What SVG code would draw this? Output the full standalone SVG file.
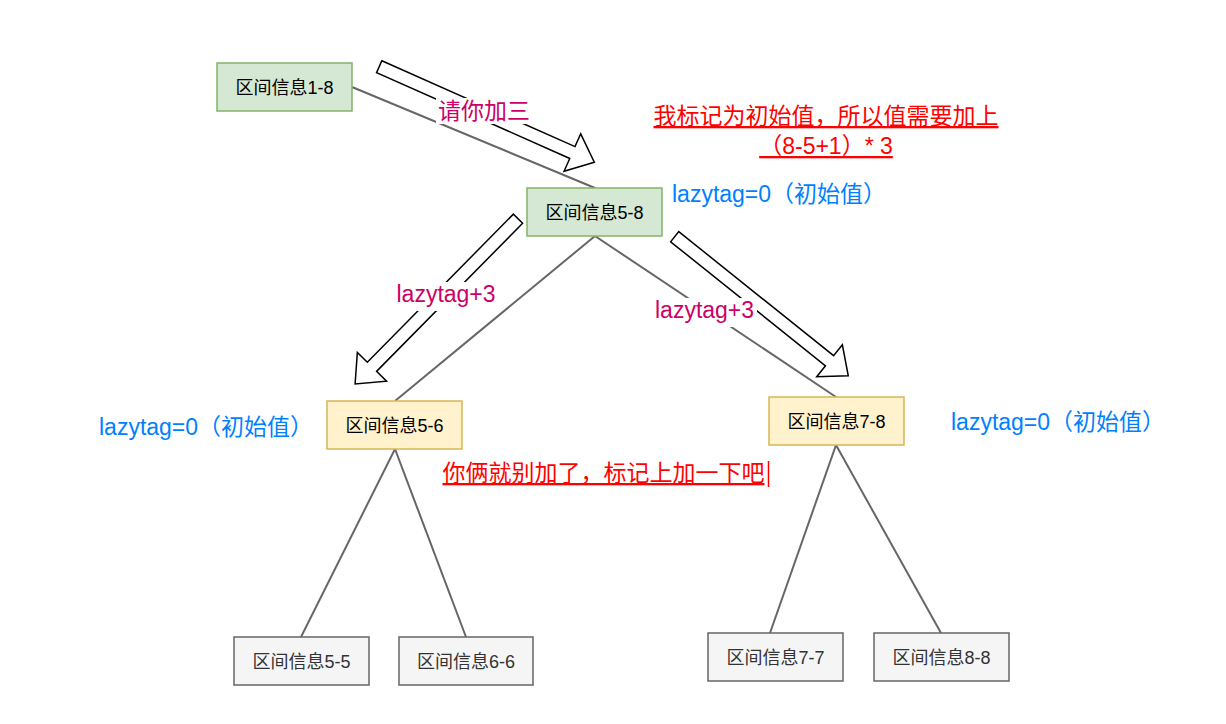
<svg xmlns="http://www.w3.org/2000/svg" width="1226" height="724" viewBox="0 0 1226 724">
<style>
text{font-family:"Liberation Sans","Noto Sans CJK SC",sans-serif}
.n rect{stroke-width:1.5}
.g rect{fill:#d5e8d4;stroke:#82b366}
.y rect{fill:#fff2cc;stroke:#d6b656}
.s rect{fill:#f5f5f5;stroke:#666666}
.n text{font-size:18px;text-anchor:middle;fill:#000}
.s text{fill:#333333}
.e line{stroke:#666666;stroke-width:2}
.arr path{fill:#fff;stroke:#000;stroke-width:1.5;stroke-linejoin:miter}
.lbl{font-size:23px;fill:#CC0066}
.bl{font-size:23px;fill:#007FFF}
.rd{font-size:23px;fill:#FF0000;text-decoration:underline}
.bg{fill:#fff}
</style>
<rect width="1226" height="724" fill="#fff"/>
<g id="connectors" class="e">
<line x1="352" y1="87" x2="595" y2="188"/>
<line x1="595" y1="236" x2="395" y2="401"/>
<line x1="595" y1="236" x2="836" y2="397"/>
<line x1="395" y1="449" x2="301" y2="637"/>
<line x1="395" y1="449" x2="466" y2="637"/>
<line x1="836" y1="445" x2="770" y2="633"/>
<line x1="836" y1="445" x2="941" y2="633"/>
</g>
<g id="node-1-8" class="n g"><rect x="217" y="63" width="135" height="48"/><text x="284.5" y="93.5">区间信息1-8</text></g>
<g id="node-5-8" class="n g"><rect x="527" y="188" width="135" height="48"/><text x="594.5" y="218.5">区间信息5-8</text></g>
<g id="node-5-6" class="n y"><rect x="327" y="401" width="135" height="48"/><text x="394.5" y="431.5">区间信息5-6</text></g>
<g id="node-7-8" class="n y"><rect x="769" y="397" width="135" height="48"/><text x="836.5" y="427.5">区间信息7-8</text></g>
<g id="node-5-5" class="n s"><rect x="234" y="637" width="135" height="48"/><text x="301.5" y="667.5">区间信息5-5</text></g>
<g id="node-6-6" class="n s"><rect x="399" y="637" width="134" height="48"/><text x="466" y="667.5">区间信息6-6</text></g>
<g id="node-7-7" class="n s"><rect x="708" y="633" width="135" height="48"/><text x="775.5" y="663.5">区间信息7-7</text></g>
<g id="node-8-8" class="n s"><rect x="874" y="633" width="135" height="48"/><text x="941.5" y="663.5">区间信息8-8</text></g>
<g id="arrows" class="arr">
<path transform="translate(379.2,66.7) rotate(23.96)" d="M0,-6.5 L211.4,-6.5 L211.4,-20.5 L235.4,0 L211.4,20.5 L211.4,6.5 L0,6.5 Z"/>
<path transform="translate(518,218.7) rotate(134.6)" d="M0,-6.5 L208,-6.5 L208,-20.5 L232,0 L208,20.5 L208,6.5 L0,6.5 Z"/>
<path transform="translate(674.7,236.7) rotate(38.7)" d="M0,-6.5 L198.4,-6.5 L198.4,-20.5 L222.4,0 L198.4,20.5 L198.4,6.5 L0,6.5 Z"/>
</g>
<g id="labels">
<rect class="bg" x="436" y="98" width="96" height="26"/>
<text class="lbl" x="438" y="119">请你加三</text>
<rect class="bg" x="394" y="282" width="104" height="29"/>
<text class="lbl" x="396.5" y="302">lazytag+3</text>
<rect class="bg" x="652" y="298" width="105" height="29"/>
<text class="lbl" x="655" y="318">lazytag+3</text>
</g>
<g id="notes">
<text class="bl" x="672" y="202">lazytag=0（初始值）</text>
<text class="bl" x="99" y="435">lazytag=0（初始值）</text>
<text class="bl" x="951" y="430">lazytag=0（初始值）</text>
<text class="rd" x="826" y="124" text-anchor="middle">我标记为初始值，所以值需要加上</text>
<text class="rd" x="826" y="154" text-anchor="middle">（8-5+1）* 3</text>
<text class="rd" x="442.5" y="481">你俩就别加了，标记上加一下吧</text>
<line x1="768.5" y1="461" x2="768.5" y2="487" stroke="#FF0000" stroke-width="1.5"/>
</g>
</svg>
